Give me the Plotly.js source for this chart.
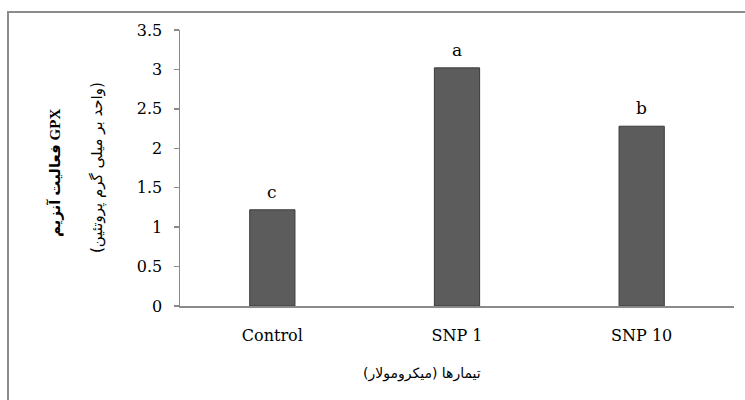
<!DOCTYPE html>
<html>
<head>
<meta charset="utf-8">
<script src="https://cdn.plot.ly/plotly-3.0.1.min.js"></script>
<style>html,body{margin:0;padding:0;background:#fff;}#chart{width:745px;height:400px;}</style>
</head>
<body>
<div id="chart"></div>
<script>
const categories = ["Control", "SNP 1", "SNP 10"];
const values = [1.22, 3.02, 2.28];
const letters = ["c", "a", "b"];
const yTickVals = [0, 0.5, 1, 1.5, 2, 2.5, 3, 3.5];
const yTickText = ["0", "0.5", "1", "1.5", "2", "2.5", "3", "3.5"];
const yTitleLine1 = "فعالیت آنزیم GPX";
const yTitleLine2 = "(واحد بر میلی گرم پروتئین)";
const xTitle = "تیمارها (میکرومولار)";

const serif = "DejaVu Serif, Liberation Serif, serif";
const trace = {
  type: "bar",
  x: categories,
  y: values,
  width: 0.245,
  marker: {color: "#5c5c5c", line: {color: "#3a3a3a", width: 1}},
  hoverinfo: "none"
};

function px2x(p) { return (p - 180) / 554; }
function px2y(p) { return (306 - p) / 276; }

const annotations = categories.map((c, i) => ({
  x: c, y: values[i], xref: "x", yref: "y",
  text: letters[i], showarrow: false, yanchor: "bottom", yshift: 6,
  font: {family: serif, size: 17, color: "#000"}
}));
annotations.push({
  xref: "paper", yref: "paper", x: px2x(422), y: px2y(373),
  text: xTitle, showarrow: false, xanchor: "center", yanchor: "middle",
  font: {family: "DejaVu Sans, sans-serif", size: 14, color: "#000"}
});
annotations.push({
  xref: "paper", yref: "paper", x: px2x(55), y: px2y(173),
  text: "<b>" + yTitleLine1 + "</b>", showarrow: false, textangle: -90,
  xanchor: "center", yanchor: "middle",
  font: {family: "Liberation Serif, DejaVu Sans, serif", size: 15, color: "#000"}
});
annotations.push({
  xref: "paper", yref: "paper", x: px2x(97), y: px2y(168),
  text: yTitleLine2, showarrow: false, textangle: -90,
  xanchor: "center", yanchor: "middle",
  font: {family: "DejaVu Sans, sans-serif", size: 15, color: "#000"}
});

const layout = {
  width: 745, height: 400,
  margin: {l: 180, r: 11, t: 30, b: 94},
  paper_bgcolor: "#fff", plot_bgcolor: "#fff",
  showlegend: false,
  xaxis: {
    type: "category",
    showline: true, linecolor: "#8a8a8a", linewidth: 1.5,
    ticks: "", showgrid: false, zeroline: false,
    tickfont: {family: serif, size: 16, color: "#000"},
    ticklabelstandoff: 14
  },
  yaxis: {
    range: [0, 3.5],
    tickvals: yTickVals, ticktext: yTickText,
    showline: true, linecolor: "#8a8a8a", linewidth: 1.5,
    ticks: "outside", ticklen: 5, tickcolor: "#8a8a8a", tickwidth: 1.5,
    showgrid: false, zeroline: false,
    tickfont: {family: serif, size: 16, color: "#000"},
    ticklabelstandoff: 8,
    automargin: false
  },
  annotations: annotations,
  shapes: [{
    type: "rect", xref: "paper", yref: "paper",
    x0: px2x(8), x1: 1.1, y0: -0.5, y1: px2y(12),
    line: {color: "#8c8c8c", width: 2}
  }]
};

Plotly.newPlot("chart", [trace], layout, {staticPlot: true, displayModeBar: false});
</script>
</body>
</html>
